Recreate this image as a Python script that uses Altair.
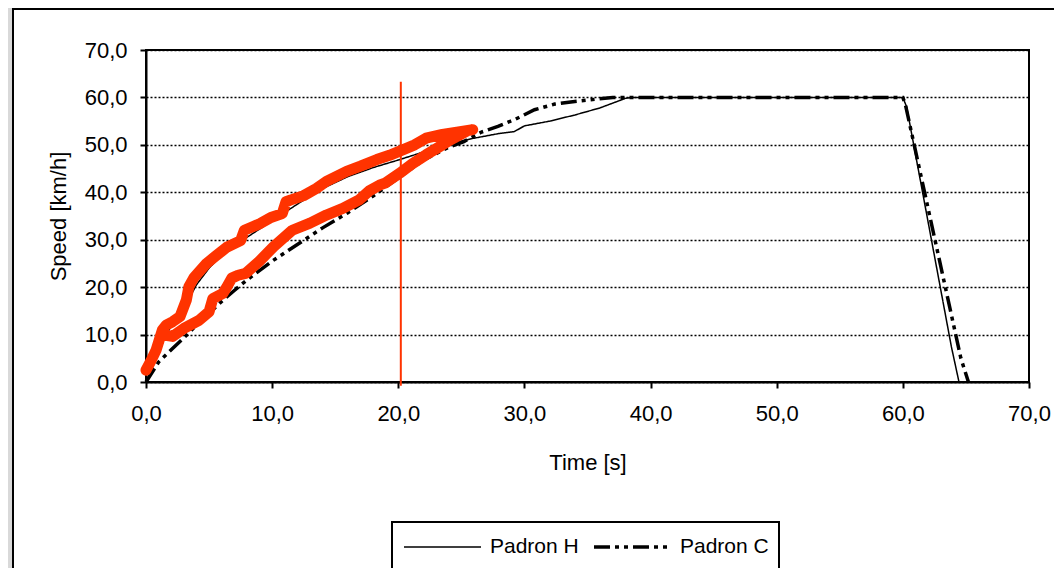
import altair as alt
import pandas as pd

# ---------------- data ----------------
series_names = ["Padron H", "Padron C"]

h_t = [0, 0.5, 1, 1.5, 2, 3, 4, 5, 6, 8, 10, 12, 14, 16, 18, 20, 22, 24, 26, 28, 29.2, 30, 32, 34, 36, 38, 38.5, 60, 60.3, 63.85, 64.45]
h_s = [0, 3, 6, 9.5, 11.8, 15.5, 20.5, 24, 26.8, 30.5, 34, 37.5, 40.8, 43.3, 45.2, 46.8, 48.5, 50.2, 51.4, 52.4, 52.8, 54, 55, 56.3, 57.8, 59.8, 60, 60, 58, 7.4, 0]

c_t = [0, 1, 2, 3, 4, 5, 6, 7, 8, 10, 12, 14, 16, 18, 20, 22, 24, 25.2, 26.6, 27.9, 29.2, 30.8, 32.4, 34.5, 35.6, 37, 60, 60.2, 64.6, 65.2]
c_s = [0, 4.2, 6.8, 9.3, 12, 14.5, 17, 19.3, 21.5, 25.5, 29, 32.5, 35.7, 39.2, 43, 46.8, 49.5, 50.7, 52.7, 53.9, 55.3, 57.4, 58.6, 59.3, 59.6, 60, 60, 58.5, 5, 0]

# measured trace (closed loop: upper branch forward, lower branch back)
loop_t = [0.0, 0.4, 0.8, 1.3, 1.6, 2.1, 2.7, 3.2, 3.4, 3.8, 4.8, 5.5, 6.4, 7.5, 7.8, 8.5, 9.05, 9.9, 10.8, 11.1, 11.5, 12.5, 13.5, 14.3, 15.9, 17.0, 18.3, 19.3, 20.4, 21.3, 22.2, 23.5, 24.9, 25.9,
          25.5, 24.1, 23.2, 22.2, 21.1, 20.1, 19.0, 18.5, 17.7, 16.9, 15.6, 14.3, 13.0, 11.6, 10.1, 9.0, 7.9, 7.3, 6.8, 6.4, 6.1, 5.3, 5.0, 4.2, 3.0, 2.1, 1.7]
loop_s = [2.5, 4.5, 6.7, 11.0, 12.0, 12.7, 13.8, 17.3, 20.1, 22.0, 25.0, 26.5, 28.4, 29.8, 32.0, 32.8, 33.4, 34.7, 35.5, 38.0, 38.4, 39.3, 40.8, 42.3, 44.4, 45.5, 46.9, 47.8, 49.0, 50.0, 51.4, 52.2, 52.8, 53.2,
          53.0, 51.0, 49.5, 47.9, 46.0, 44.0, 42.0, 41.5, 40.3, 38.4, 36.6, 35.2, 33.5, 32.0, 28.5, 25.5, 22.9, 22.5, 21.9, 20.0, 18.7, 17.6, 14.8, 13.0, 11.3, 9.6, 9.8]

marker_t = 20.2
marker_s = [-0.8, 63.3]

x_ticks = [0, 10, 20, 30, 40, 50, 60, 70]
y_ticks = [0, 10, 20, 30, 40, 50, 60, 70]

FONT = "Liberation Sans"
RED = "#FF3300"

# ---------------- tables ----------------
rows = []
for name, ts, ss in [("Padron H", h_t, h_s), ("Padron C", c_t, c_s)]:
    for i, (t, s) in enumerate(zip(ts, ss)):
        rows.append({"series": name, "t": t, "s": s, "i": i})
df_lines = pd.DataFrame(rows)
df_loop = pd.DataFrame({"t": loop_t, "s": loop_s, "i": list(range(len(loop_t)))})
df_marker = pd.DataFrame({"t": [marker_t], "s": [marker_s[0]], "s2": [marker_s[1]]})
df_dummy = pd.DataFrame({"a": [0]})

label_expr = "replace(format(datum.value, '.1f'), '.', ',')"

x_enc = alt.X(
    "t:Q",
    scale=alt.Scale(domain=[0, 70], nice=False, zero=False),
    axis=alt.Axis(
        values=x_ticks, title="Time [s]", labelExpr=label_expr, grid=False,
        labelFlush=False, labelPadding=15, titlePadding=28, tickSize=6,
    ),
)
y_enc = alt.Y(
    "s:Q",
    scale=alt.Scale(domain=[0, 70], nice=False, zero=False),
    axis=alt.Axis(
        values=y_ticks, title="Speed [km/h]", labelExpr=label_expr, grid=True,
        gridDash=[2, 2], gridColor="black", gridWidth=1.5,
        labelPadding=13, titlePadding=14, tickSize=6,
    ),
)

# decorations: outer frame like the source figure
strip = alt.Chart(df_dummy).mark_rect(color="#d9d9d9").encode(
    x=alt.value(-138), x2=alt.value(-134), y=alt.value(-42), y2=alt.value(540)
)
frame_left = alt.Chart(df_dummy).mark_rule(color="black", strokeWidth=2).encode(
    x=alt.value(-133), y=alt.value(-41), y2=alt.value(540)
)
frame_top = alt.Chart(df_dummy).mark_rule(color="black", strokeWidth=2).encode(
    x=alt.value(-134), x2=alt.value(920), y=alt.value(-41)
)

loop = alt.Chart(df_loop).mark_line(
    color=RED, strokeWidth=11, strokeJoin="round", strokeCap="round"
).encode(x=x_enc, y=y_enc, order="i:Q")

lines = alt.Chart(df_lines).mark_line(color="black", strokeCap="butt").encode(
    x=x_enc,
    y=y_enc,
    order="i:Q",
    detail="series:N",
    strokeDash=alt.StrokeDash(
        "series:N",
        scale=alt.Scale(domain=series_names, range=[[1, 0], [16, 5, 4, 5, 4, 5]]),
        legend=alt.Legend(
            title=None, orient="none", legendX=246, legendY=472,
            direction="horizontal", columns=2,
        ),
    ),
    strokeWidth=alt.StrokeWidth(
        "series:N",
        scale=alt.Scale(domain=series_names, range=[1.5, 3.5]),
        legend=alt.Legend(
            title=None, orient="none", legendX=246, legendY=472,
            direction="horizontal", columns=2,
        ),
    ),
)

marker = alt.Chart(df_marker).mark_rule(color=RED, strokeWidth=2).encode(
    x="t:Q", y="s:Q", y2="s2:Q"
)

chart = alt.layer(strip, frame_left, frame_top, lines, loop, marker).properties(
    width=883, height=332,
    padding={"left": 138, "top": 42, "right": 25, "bottom": 186},
    autosize=alt.AutoSizeParams(type="none"),
    background="white",
).configure_view(
    stroke="black", strokeWidth=2
).configure_axis(
    labelFont=FONT, titleFont=FONT, labelFontSize=22, titleFontSize=22,
    labelColor="black", titleColor="black", titleFontWeight="normal",
    domainColor="black", domainWidth=2, tickColor="black", tickWidth=2,
).configure_legend(
    labelFont=FONT, labelFontSize=21, labelColor="black",
    symbolType="stroke", symbolSize=5929, symbolStrokeColor="black",
    clipHeight=30, padding=10, columnPadding=13, labelOffset=7,
    strokeColor="black", strokeWidth=2,
)

chart.save("out.html", embed_options={"renderer": "svg", "actions": False})
